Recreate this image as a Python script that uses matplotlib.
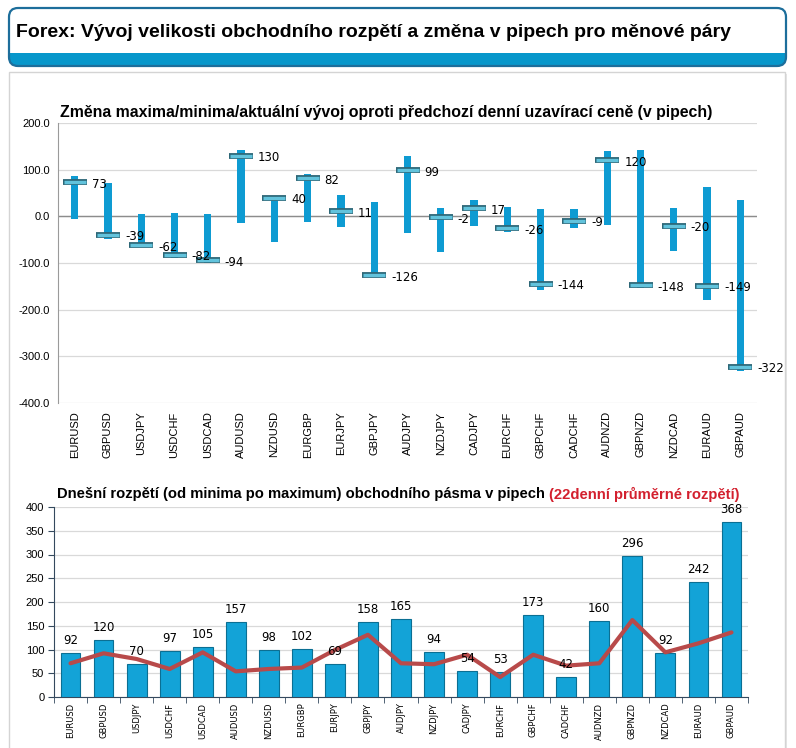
import matplotlib.pyplot as plt
from matplotlib.patches import FancyBboxPatch, Rectangle
import numpy as np

pairs = ['EURUSD', 'GBPUSD', 'USDJPY', 'USDCHF', 'USDCAD', 'AUDUSD', 'NZDUSD',
         'EURGBP', 'EURJPY', 'GBPJPY', 'AUDJPY', 'NZDJPY', 'CADJPY', 'EURCHF',
         'GBPCHF', 'CADCHF', 'AUDNZD', 'GBPNZD', 'NZDCAD', 'EURAUD', 'GBPAUD']
# change vs previous daily close (pips)
high = [86, 71, 5, 8, 4, 142, 43, 90, 46, 30, 129, 18, 34, 19, 16, 16, 141, 142, 18, 63, 36]
low = [-6, -49, -65, -89, -101, -15, -55, -12, -23, -128, -36, -76, -20, -34, -157, -26,
       -19, -154, -74, -179, -332]
current = [73, -39, -62, -82, -94, 130, 40, 82, 11, -126, 99, -2, 17, -26, -144, -9,
           120, -148, -20, -149, -322]
# today's range and 22-day average range (pips)
day_range = [92, 120, 70, 97, 105, 157, 98, 102, 69, 158, 165, 94, 54, 53, 173, 42,
             160, 296, 92, 242, 368]
avg22 = [71, 92, 80, 59, 94, 54, 59, 62, 99, 131, 71, 69, 89, 42, 89, 66, 71, 162, 94,
         113, 136]

W, H = 796, 748
fig = plt.figure(figsize=(W / 100, H / 100), dpi=100)
plt.rcParams['font.family'] = ['Liberation Sans', 'DejaVu Sans']


def box(l, t, r, b):
    return [l / W, 1 - b / H, (r - l) / W, (b - t) / H]


# background: header box and panel frame, in pixel coords
bg = fig.add_axes([0, 0, 1, 1], zorder=0)
bg.set_xlim(0, W)
bg.set_ylim(H, 0)
bg.axis('off')

bg.add_patch(Rectangle((11, 74), 776, 700, fc='#e6e6e6', ec='none'))
bg.add_patch(Rectangle((9, 72), 776, 700, fc='white', ec='#d4d4d4', lw=1))

hdr = FancyBboxPatch((9, 8), 777, 58, boxstyle='round,pad=0,rounding_size=9',
                     fc='white', ec='none')
bg.add_patch(hdr)
band = Rectangle((0, 53), W, 14, fc='#0797cb', ec='none')
bg.add_patch(band)
band.set_clip_path(hdr)
bg.add_patch(FancyBboxPatch((9, 8), 777, 58, boxstyle='round,pad=0,rounding_size=9',
                            fc='none', ec='#1d6e9b', lw=1.6))
bg.text(16, 32, 'Forex: Vývoj velikosti obchodního rozpětí a změna v pipech pro měnové páry',
        fontsize=14, fontweight='bold', va='center', ha='left',
        family=['Liberation Sans Narrow', 'Liberation Sans'])

x = np.arange(len(pairs))

# ---- top chart: max/min/current change ----
ax1 = fig.add_axes(box(58, 123, 757, 403), zorder=2)
ax1.set_facecolor('none')
ax1.bar(x, np.array(high) - np.array(low), bottom=low, width=0.22, color='#0e9bd2', zorder=3)
ax1.plot(x, current, ls='none', marker='_', ms=17.5, mew=4.2, color='#2d6777', zorder=4)
ax1.plot(x, current, ls='none', marker='_', ms=16, mew=2.4, color='#62c3dc', zorder=5)
for i, c in enumerate(current):
    ax1.annotate(str(c), (i, c), xytext=(17, -2), textcoords='offset pixels',
                 ha='left', va='center', fontsize=8.5, family='DejaVu Sans', zorder=6)
ax1.set_xlim(-0.5, len(pairs) - 0.5)
ax1.set_ylim(-400, 200)
ax1.set_yticks(range(-400, 201, 100))
ax1.set_yticklabels([f'{v:.1f}' for v in range(-400, 201, 100)], fontsize=8)
ax1.yaxis.grid(True, color='#d9d9d9', lw=0.9)
ax1.axhline(0, color='#8c8c8c', lw=1, zorder=2)
ax1.set_axisbelow(True)
ax1.set_xticks(x)
ax1.set_xticklabels(pairs, rotation=90, fontsize=8, va='top')
ax1.tick_params(length=0, pad=6)
for s in ['top', 'right', 'bottom']:
    ax1.spines[s].set_visible(False)
ax1.spines['left'].set_color('#9a9a9a')
fig.text(60 / W, 1 - 113 / H,
         'Změna maxima/minima/aktuální vývoj oproti předchozí denní uzavírací ceně (v pipech)',
         fontsize=11.4, fontweight='bold', va='center', ha='left')

# ---- bottom chart: today's range vs 22-day average ----
ax2 = fig.add_axes(box(54, 507, 748, 697), zorder=2)
ax2.set_facecolor('none')
ax2.bar(x, day_range, width=0.6, color='#13a3d7', edgecolor='#0b6f93', lw=0.8, zorder=3)
ax2.plot(x, avg22, color='#b84a4a', lw=3, zorder=4, solid_capstyle='round')
for i, v in enumerate(day_range):
    ax2.annotate(str(v), (i, v), xytext=(0, 6), textcoords='offset pixels',
                 ha='center', va='bottom', fontsize=8.5, family='DejaVu Sans', zorder=6)
ax2.set_xlim(-0.5, len(pairs) - 0.5)
ax2.set_ylim(0, 400)
ax2.set_yticks(range(0, 401, 50))
ax2.yaxis.grid(True, color='#d9d9d9', lw=0.9)
ax2.set_axisbelow(True)
ax2.tick_params(axis='y', labelsize=8, length=4, color='#34495e', pad=3)
ax2.set_xticks(x)
ax2.set_xticklabels(pairs, rotation=90, fontsize=6, family='DejaVu Sans', va='top')
ax2.set_xticks(np.arange(-0.5, len(pairs)), minor=True)
ax2.tick_params(axis='x', which='major', length=0, pad=4)
ax2.tick_params(axis='x', which='minor', length=4, color='#34495e')
for s in ['top', 'right']:
    ax2.spines[s].set_visible(False)
for s in ['left', 'bottom']:
    ax2.spines[s].set_color('#34495e')

t1 = fig.text(57 / W, 1 - 494 / H,
              'Dnešní rozpětí (od minima po maximum) obchodního pásma v pipech ',
              fontsize=10.6, fontweight='bold', va='center', ha='left')
fig.canvas.draw()
bb = t1.get_window_extent()
fig.text(bb.x1 / W, 1 - 494 / H, '(22denní průměrné rozpětí)', fontsize=10.6,
         fontweight='bold', va='center', ha='left', color='#d3202e')

fig.savefig('out.png', dpi=100)
